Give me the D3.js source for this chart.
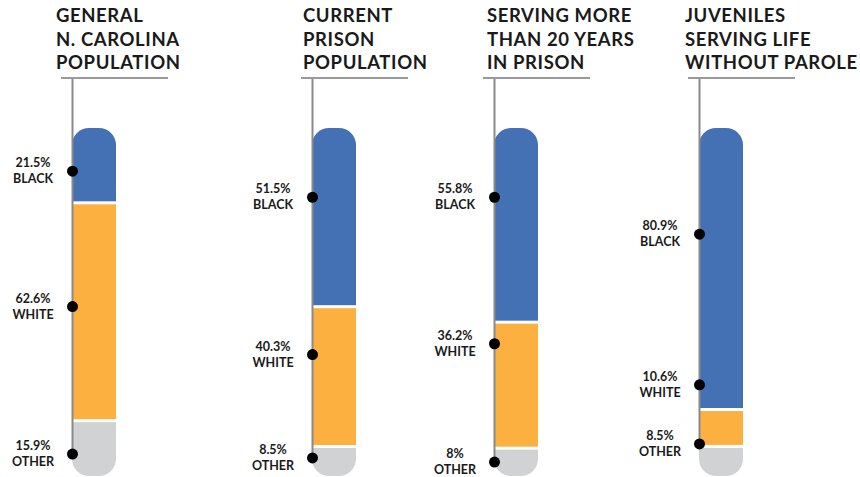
<!DOCTYPE html>
<html>
<head>
<meta charset="utf-8">
<script src="https://cdn.jsdelivr.net/npm/d3@7"></script>
<style>
  body { margin: 0; background: #fff; }
  svg { display: block; font-family: Lato, "Open Sans", sans-serif; }
  .title { font-size: 18.5px; font-weight: 700; fill: #1a1a1a; letter-spacing: 0.6px; }
  .lbl { font-size: 12.5px; font-weight: 700; fill: #1a1a1a; }
</style>
</head>
<body>
<div id="chart"></div>
<script>
// Chart data
const titles = [
    ['GENERAL', 'N. CAROLINA', 'POPULATION'],
    ['CURRENT', 'PRISON', 'POPULATION'],
    ['SERVING MORE', 'THAN 20 YEARS', 'IN PRISON'],
    ['JUVENILES', 'SERVING LIFE', 'WITHOUT PAROLE']
];
const groups = ['BLACK', 'WHITE', 'OTHER'];
const blackPct = [21.5, 51.5, 55.8, 80.9];
const whitePct = [62.6, 40.3, 36.2, 10.6];
const otherPct = [15.9, 8.5, 8, 8.5];
// where each label dot sits along the bar (percent from the top)
const blackDot = [12.4, 19.9, 19.9, 30.5];
const whiteDot = [51.3, 65.1, 62.0, 73.8];
const otherDot = [93.7, 94.8, 96.0, 90.8];

const colors = { BLACK: '#4371b4', WHITE: '#fbb040', OTHER: '#d1d2d4' };

// Layout (pixels)
const colX = [72, 312, 494, 699];
const titleDx = [-16, -9, -7, -14];
const barW = 44;
const barTop = 128, barBottom = 476;

const svg = d3.select('#chart').append('svg')
    .attr('width', 860)
    .attr('height', 477);

const defs = svg.append('defs');

titles.forEach((t, i) => {
    const x0 = colX[i];
    const vals = [blackPct[i], whitePct[i], otherPct[i]];
    const dots = [blackDot[i], whiteDot[i], otherDot[i]];
    const total = d3.sum(vals);

    const y = d3.scaleLinear().domain([0, total]).range([barTop, barBottom]);
    const yDot = d3.scaleLinear().domain([0, 100]).range([barTop, barBottom]);

    const g = svg.append('g');

    // Title
    const title = g.append('text').attr('class', 'title')
        .attr('x', x0 + titleDx[i]).attr('y', 22);
    t.forEach((line, j) => {
        title.append('tspan').attr('x', x0 + titleDx[i]).attr('y', 22 + j * 23.7).text(line);
    });

    // Underline
    g.append('line')
        .attr('x1', x0 - 11).attr('x2', x0 + 96)
        .attr('y1', 78).attr('y2', 78)
        .attr('stroke', '#999').attr('stroke-width', 2);

    // Rounded clip for the bar
    defs.append('clipPath').attr('id', 'clip' + i)
        .append('rect')
        .attr('x', x0).attr('y', barTop)
        .attr('width', barW).attr('height', barBottom - barTop)
        .attr('rx', 17).attr('ry', 17);

    // Stacked segments
    let acc = 0;
    const segs = vals.map((v, k) => {
        const s = { key: groups[k], y0: acc, y1: acc + v };
        acc += v;
        return s;
    });

    const bar = g.append('g').attr('clip-path', `url(#clip${i})`);
    bar.selectAll('rect.seg')
        .data(segs)
        .enter()
        .append('rect')
        .attr('class', 'seg')
        .attr('x', x0)
        .attr('y', d => y(d.y0))
        .attr('width', barW)
        .attr('height', d => y(d.y1) - y(d.y0))
        .attr('fill', d => colors[d.key]);

    // White separators between segments
    bar.selectAll('rect.sep')
        .data(segs.slice(0, -1))
        .enter()
        .append('rect')
        .attr('class', 'sep')
        .attr('x', x0)
        .attr('y', d => y(d.y1) - 1.5)
        .attr('width', barW)
        .attr('height', 3)
        .attr('fill', '#fff');

    // Vertical guide line
    g.append('line')
        .attr('x1', x0 + 0.5).attr('x2', x0 + 0.5)
        .attr('y1', 79).attr('y2', yDot(dots[2]))
        .attr('stroke', '#8a8a8a').attr('stroke-width', 2);

    // Dots and labels
    dots.forEach((d, k) => {
        const cy = yDot(d);
        g.append('circle')
            .attr('cx', x0 + 0.5).attr('cy', cy).attr('r', 5.5)
            .attr('fill', '#000');
        const lbl = g.append('text').attr('class', 'lbl')
            .attr('text-anchor', 'middle');
        lbl.append('tspan').attr('x', x0 - 39).attr('y', cy - 4).text(vals[k] + '%');
        lbl.append('tspan').attr('x', x0 - 39).attr('y', cy + 12).text(groups[k]);
    });
});
</script>
</body>
</html>
